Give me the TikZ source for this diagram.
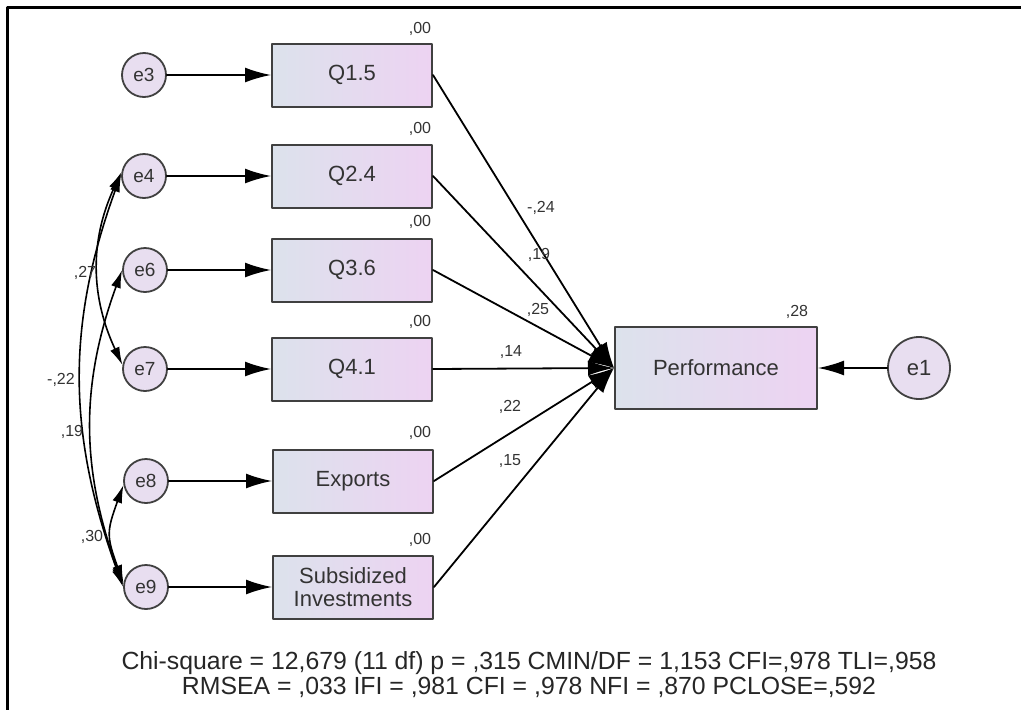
\documentclass[tikz,border=0pt]{standalone}
\usepackage{fontspec}
\setmainfont{Liberation Sans}
\usetikzlibrary{arrows.meta}
\definecolor{boxleft}{HTML}{DCE2EC}
\definecolor{boxright}{HTML}{EDD3F2}
\definecolor{errfill}{HTML}{E8DEF0}
\definecolor{ink}{HTML}{333333}
\tikzset{
  obs/.style={draw=black!75,line width=2pt,left color=boxleft,right color=boxright,
    minimum width=160pt,minimum height=63pt,inner sep=0pt,text=ink,
    font=\fontsize{22}{23}\selectfont,align=center},
  err/.style={circle,draw=black!75,line width=1.8pt,fill=errfill,minimum size=44pt,
    inner sep=0pt,text=ink,font=\fontsize{19}{19}\selectfont},
  reg/.style={line width=1.8pt,-{Latex[length=26pt,width=15pt]}},
  cov/.style={line width=1.6pt,{Latex[length=18pt,width=10pt]}-{Latex[length=18pt,width=10pt]}},
  est/.style={text=ink,font=\fontsize{16}{16}\selectfont,inner sep=0pt}
}
\begin{document}
\begin{tikzpicture}[x=1pt,y=1pt,line cap=round,line join=round]
  \useasboundingbox (0,0) rectangle (1021,-710);
  \draw[line width=3pt,line cap=butt] (7,-710) -- (7,-7) -- (1021,-7);
  % error terms
  \node[err] (e3) at (144,-75) {e3};
  \node[err] (e4) at (144,-176) {e4};
  \node[err] (e6) at (145,-270) {e6};
  \node[err] (e7) at (145,-369) {e7};
  \node[err] (e8) at (146,-481) {e8};
  \node[err] (e9) at (146,-587) {e9};
  % observed variables
  \node[obs] (q15) at (352,-75) {Q1.5};
  \node[obs] (q24) at (352,-176) {Q2.4};
  \node[obs] (q36) at (352,-270) {Q3.6};
  \node[obs] (q41) at (352,-369) {Q4.1};
  \node[obs] (exp) at (353,-481) {Exports};
  \node[obs] (sub) at (353,-587) {Subsidized\\Investments};
  \node[obs,minimum width=202pt,minimum height=82pt] (perf) at (716,-368) {Performance};
  \node[err,minimum size=62pt,font=\fontsize{22}{22}\selectfont] (e1) at (919,-368) {e1};
  % paths
  \foreach \e/\q in {e3/q15,e4/q24,e6/q36,e7/q41,e8/exp,e9/sub}
    \draw[reg] (\e) -- (\q);
  \foreach \q in {q15,q24,q36,q41,exp,sub}
    \draw[reg] (\q.east) -- (perf.west);
  \draw[reg] (e1) -- (perf);
  % covariances
  \draw[cov] (e4.170) to[out=245,in=115] (e7.170);
  \draw[cov] (e4.175) to[out=250,in=110] (e9.180);
  \draw[cov] (e6.180) to[out=250,in=110] (e9.175);
  \draw[cov] (e8.190) to[out=250,in=110,looseness=1.3] (e9.170);
  \node[est] (c47) at (85,-273) {,27};
  \node[est] (c49) at (61,-380) {-,22};
  \node[est] (c69) at (72,-432) {,19};
  \node[est] (c89) at (92,-537) {,30};
  % estimates
  \node[est] (b15) at (541,-208) {-,24};
  \node[est] (b24) at (539,-255) {,19};
  \node[est] (b36) at (538,-310) {,25};
  \node[est] (b41) at (511,-352) {,14};
  \node[est] (bex) at (510,-407) {,22};
  \node[est] (bsu) at (510,-461) {,15};
  \node[est] (r15) at (420,-29) {,00};
  \node[est] (r24) at (420,-129) {,00};
  \node[est] (r36) at (420,-222) {,00};
  \node[est] (r41) at (420,-322) {,00};
  \node[est] (rex) at (420,-433) {,00};
  \node[est] (rsu) at (420,-540) {,00};
  \node[est] (rpf) at (797,-312) {,28};
  % fit indices
  \node[text=black!85,font=\fontsize{24.8}{25}\selectfont,align=center] (fit) at (529,-675)
    {Chi-square = 12,679 (11 df) p = ,315 CMIN/DF = 1,153 CFI=,978 TLI=,958\\
     RMSEA = ,033 IFI = ,981 CFI = ,978 NFI = ,870 PCLOSE=,592};
\end{tikzpicture}
\end{document}
